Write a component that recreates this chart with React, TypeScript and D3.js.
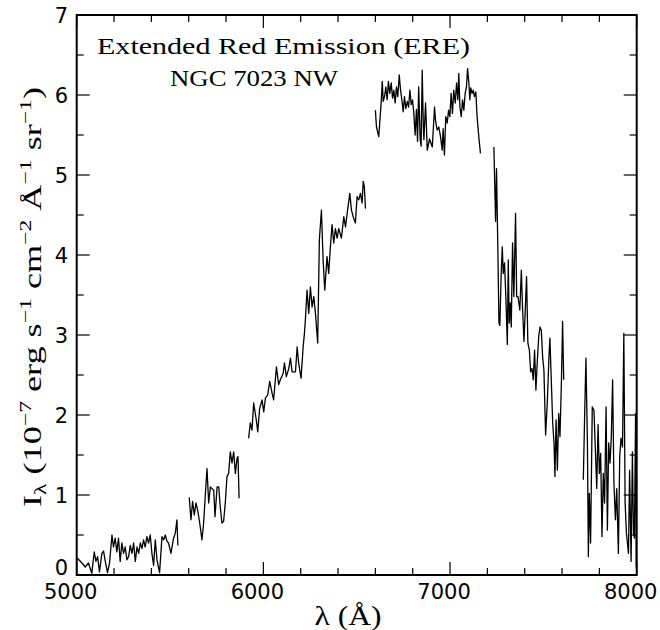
import React from "react";
import * as d3 from "d3";

// Spectrum segments: [wavelength (Å), intensity (1e-7 erg s^-1 cm^-2 Å^-1 sr^-1)]
const seg1: [number, number][] = [
  [5004, 0.21], [5028, 0.15], [5046, 0.1], [5063, 0.15], [5081, 0.02], [5094, 0.29], [5103, 0.17],
  [5112, 0.23], [5122, 0.04], [5135, 0.27], [5144, 0.3], [5153, 0.17], [5165, 0.03], [5176, 0.15],
  [5189, 0.5], [5197, 0.35], [5206, 0.46], [5215, 0.29], [5224, 0.46], [5233, 0.17], [5242, 0.4],
  [5251, 0.27], [5260, 0.35], [5269, 0.19], [5278, 0.23], [5287, 0.37], [5296, 0.27], [5305, 0.4],
  [5314, 0.17], [5323, 0.35], [5332, 0.27], [5341, 0.4], [5350, 0.33], [5358, 0.44], [5367, 0.35],
  [5376, 0.48], [5385, 0.4], [5394, 0.5], [5403, 0.27], [5412, 0.12], [5421, 0.44], [5430, 0.19],
  [5444, 0.03], [5457, 0.48], [5466, 0.44], [5475, 0.5], [5484, 0.42], [5492, 0.4], [5505, 0.27],
  [5519, 0.46], [5528, 0.52], [5537, 0.69], [5542, 0.37],
];

const seg2: [number, number][] = [
  [5603, 0.97], [5612, 0.69], [5621, 0.92], [5630, 0.75], [5639, 0.9], [5648, 0.81], [5659, 0.65],
  [5671, 0.44], [5680, 0.65], [5689, 1.0], [5698, 1.33], [5707, 0.9], [5716, 1.1], [5725, 1.08],
  [5734, 1.06], [5741, 0.73], [5752, 1.1], [5761, 1.1], [5769, 0.85], [5778, 0.65], [5787, 0.67],
  [5796, 0.9], [5805, 1.23], [5814, 1.27], [5823, 1.54], [5832, 1.4], [5841, 1.54], [5850, 1.27],
  [5859, 1.46], [5864, 1.48], [5870, 0.96],
];

const seg3: [number, number][] = [
  [5921, 1.71], [5930, 1.9], [5939, 1.81], [5948, 2.15], [5962, 1.94], [5970, 1.79], [5980, 2.08],
  [5993, 2.19], [6002, 2.04], [6011, 2.21], [6023, 2.25], [6034, 2.42], [6047, 2.27], [6055, 2.19],
  [6070, 2.6], [6082, 2.38], [6091, 2.44], [6106, 2.52], [6113, 2.65], [6123, 2.48], [6136, 2.58],
  [6145, 2.71], [6154, 2.54], [6172, 2.54], [6181, 2.85], [6189, 2.65], [6202, 2.46], [6213, 2.85],
  [6220, 3.02], [6225, 3.19], [6234, 3.56], [6243, 3.27], [6252, 3.6], [6261, 3.35], [6270, 3.48],
  [6279, 3.27], [6291, 2.9], [6300, 4.19], [6311, 4.56], [6320, 3.94], [6329, 3.56], [6341, 3.98],
  [6350, 3.77], [6359, 4.1], [6368, 4.38], [6377, 4.15], [6386, 4.33], [6395, 4.21], [6404, 4.33],
  [6418, 4.21], [6431, 4.48], [6440, 4.35], [6449, 4.52], [6463, 4.77], [6472, 4.56], [6481, 4.48],
  [6493, 4.4], [6502, 4.73], [6511, 4.69], [6520, 4.77], [6529, 4.65], [6535, 4.92], [6541, 4.85],
  [6547, 4.58],
];

const seg4: [number, number][] = [
  [6600, 5.81], [6606, 5.6], [6618, 5.48], [6624, 5.67], [6631, 5.9], [6637, 6.17], [6642, 5.92],
  [6649, 5.98], [6656, 6.1], [6663, 5.94], [6670, 6.17], [6677, 6.02], [6685, 6.15], [6692, 5.96],
  [6699, 6.06], [6706, 5.9], [6713, 6.1], [6720, 5.98], [6728, 6.25], [6735, 6.06], [6742, 5.94],
  [6749, 5.79], [6756, 5.98], [6763, 5.83], [6771, 5.92], [6778, 5.85], [6785, 6.06], [6792, 5.88],
  [6799, 5.94], [6806, 5.77], [6813, 5.5], [6820, 5.82], [6826, 5.42], [6832, 6.1], [6840, 5.45],
  [6845, 5.36], [6851, 6.31], [6857, 5.6], [6860, 5.44], [6869, 5.9], [6878, 5.31], [6890, 5.45],
  [6905, 5.35], [6917, 5.85], [6922, 5.69], [6931, 5.56], [6940, 5.6], [6949, 5.48], [6958, 5.31],
  [6963, 5.58], [6970, 5.25], [6977, 5.73], [6985, 5.65], [6992, 5.81], [6999, 5.73], [7006, 6.02],
  [7013, 5.77], [7020, 6.06], [7028, 5.9], [7035, 6.15], [7042, 5.94], [7047, 6.27], [7053, 5.85],
  [7060, 5.73], [7067, 5.94], [7074, 5.81], [7081, 6.02], [7088, 6.1], [7094, 6.33], [7101, 6.15],
  [7106, 5.94], [7111, 6.09], [7118, 6.02], [7124, 6.06], [7131, 5.98], [7138, 6.04], [7145, 5.73],
  [7154, 5.48], [7163, 5.27],
];

const seg5: [number, number][] = [
  [7235, 5.35], [7244, 4.42], [7249, 5.08], [7256, 4.1], [7262, 3.15], [7267, 3.12], [7274, 3.77],
  [7280, 4.1], [7285, 3.77], [7292, 3.9], [7299, 3.48], [7307, 2.88], [7312, 3.94], [7317, 3.15],
  [7323, 3.4], [7328, 3.1], [7335, 4.15], [7342, 3.48], [7351, 4.52], [7357, 3.48], [7364, 3.48],
  [7374, 3.31], [7382, 3.81], [7389, 3.31], [7396, 2.92], [7403, 3.31], [7410, 3.73], [7417, 2.9],
  [7425, 2.81], [7432, 2.54], [7439, 2.58], [7446, 2.44], [7453, 2.81], [7460, 2.31], [7468, 2.69],
  [7475, 2.98], [7482, 3.1], [7489, 3.06], [7496, 2.73], [7503, 2.56], [7512, 1.75], [7521, 2.15],
  [7530, 2.73], [7535, 2.96], [7543, 2.4], [7550, 1.9], [7557, 1.65], [7562, 1.23], [7568, 1.94],
  [7575, 1.31], [7582, 2.02], [7589, 1.73], [7597, 2.44], [7603, 3.17], [7609, 2.44],
];

const seg6: [number, number][] = [
  [7714, 1.19], [7721, 1.98], [7728, 2.71], [7736, 1.65], [7741, 0.23], [7746, 1.02], [7753, 0.4],
  [7762, 2.1], [7771, 2.06], [7778, 1.6], [7786, 1.08], [7793, 1.88], [7800, 1.27], [7807, 1.52],
  [7814, 0.48], [7821, 1.27], [7828, 0.9], [7836, 2.1], [7843, 0.56], [7850, 1.65], [7857, 1.4],
  [7864, 1.73], [7871, 2.44], [7878, 1.15], [7886, 0.69], [7893, 1.08], [7902, 0.27], [7909, 1.48],
  [7916, 1.71], [7924, 1.6], [7931, 3.02], [7938, 0.9], [7945, 0.52], [7956, 0.27], [7962, 1.31],
  [7970, 0.17], [7977, 1.54], [7983, 0.52], [7988, 0.46], [7994, 2.02], [7998, 0.1], [8000, 2.04],
];

const segments = [seg1, seg2, seg3, seg4, seg5, seg6];

const xMajorTicks = [5000, 6000, 7000, 8000];
const xMinorTicks = d3.range(5000, 8001, 200);
const yMajorTicks = [0, 1, 2, 3, 4, 5, 6, 7];
const yMinorTicks = d3.range(0, 7.01, 0.5);

const titleLine1 = "Extended Red Emission (ERE)";
const titleLine2 = "NGC 7023 NW";

export default function App() {
  const W = 660;
  const H = 630;
  const left = 76.7;
  const right = 636.7;
  const top = 15;
  const bottom = 575;

  const x = d3.scaleLinear().domain([5000, 8000]).range([left, right]);
  const y = d3.scaleLinear().domain([0, 7]).range([bottom, top]);

  const line = d3
    .line<[number, number]>()
    .x((d) => x(d[0]))
    .y((d) => y(d[1]));

  const majLen = 13;
  const minLen = 7;

  const serif = "'Liberation Serif', 'DejaVu Serif', serif";
  const sans = "'DejaVu Sans', 'Liberation Sans', sans-serif";

  return (
    <svg
      width={W}
      height={H}
      style={{ position: "absolute", left: 0, top: 0, background: "#fff" }}
    >
      <defs>
        <clipPath id="plotclip">
          <rect x={left} y={top} width={right - left} height={bottom - top} />
        </clipPath>
      </defs>

      {/* spectrum */}
      <g clipPath="url(#plotclip)">
        {segments.map((s, i) => (
          <path key={i} d={line(s) || ""} fill="none" stroke="#000" strokeWidth={1.3} strokeLinejoin="round" />
        ))}
      </g>

      {/* ticks */}
      <g stroke="#000" strokeWidth={1.2}>
        {xMinorTicks.map((t) => {
          const len = xMajorTicks.includes(t) ? majLen : minLen;
          return (
            <g key={"x" + t}>
              <line x1={x(t)} x2={x(t)} y1={bottom} y2={bottom - len} />
              <line x1={x(t)} x2={x(t)} y1={top} y2={top + len} />
            </g>
          );
        })}
        {yMinorTicks.map((t) => {
          const len = Number.isInteger(t) ? majLen : minLen;
          return (
            <g key={"y" + t}>
              <line x1={left} x2={left + len} y1={y(t)} y2={y(t)} />
              <line x1={right} x2={right - len} y1={y(t)} y2={y(t)} />
            </g>
          );
        })}
      </g>

      {/* frame */}
      <rect x={left} y={top} width={right - left} height={bottom - top} fill="none" stroke="#000" strokeWidth={2} />

      {/* x tick labels */}
      {xMajorTicks.map((t) => (
        <text key={"xl" + t} x={x(t) - 6} y={599} textAnchor="middle" fontFamily={sans} fontSize={21} fill="#000">
          {t}
        </text>
      ))}

      {/* y tick labels */}
      {yMajorTicks.map((t) => (
        <text
          key={"yl" + t}
          x={68}
          y={t === 0 ? bottom : y(t) + 7.5}
          textAnchor="end"
          fontFamily={sans}
          fontSize={21}
          fill="#000"
        >
          {t}
        </text>
      ))}

      {/* titles */}
      <text x={97} y={54} fontFamily={serif} fontSize={24} textLength={373} lengthAdjust="spacingAndGlyphs" fill="#000">
        {titleLine1}
      </text>
      <text x={170} y={86} fontFamily={serif} fontSize={24} textLength={168} lengthAdjust="spacingAndGlyphs" fill="#000">
        {titleLine2}
      </text>

      {/* x label */}
      <text x={348} y={625} textAnchor="middle" fontFamily={serif} fontSize={27} textLength={67} lengthAdjust="spacingAndGlyphs" fill="#000">
        λ (Å)
      </text>

      {/* y label */}
      <text
        transform={`translate(41, 297) rotate(-90)`}
        textAnchor="middle"
        fontFamily={serif}
        fontSize={26}
        textLength={420}
        lengthAdjust="spacingAndGlyphs"
        fill="#000"
      >
        <tspan>I</tspan>
        <tspan fontSize={17} dy={5}>λ</tspan>
        <tspan dy={-5}> (10</tspan>
        <tspan fontSize={17} dy={-10}>−7</tspan>
        <tspan dy={10}> erg s</tspan>
        <tspan fontSize={17} dy={-10}>−1</tspan>
        <tspan dy={10}> cm</tspan>
        <tspan fontSize={17} dy={-10}>−2</tspan>
        <tspan dy={10}> Å</tspan>
        <tspan fontSize={17} dy={-10}>−1</tspan>
        <tspan dy={10}> sr</tspan>
        <tspan fontSize={17} dy={-10}>−1</tspan>
        <tspan dy={10}>)</tspan>
      </text>
    </svg>
  );
}
